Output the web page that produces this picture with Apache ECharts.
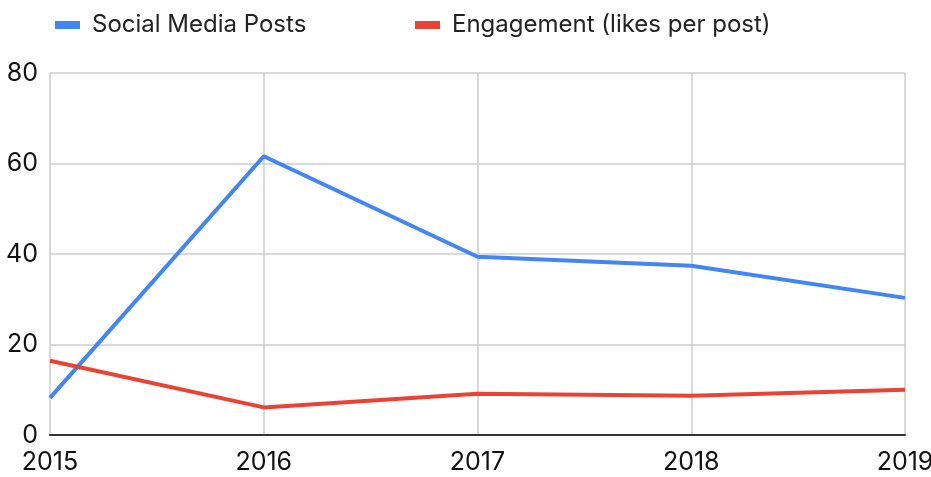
<!DOCTYPE html>
<html>
<head>
<meta charset="utf-8">
<style>
  html, body { margin: 0; padding: 0; background: #fff; }
  #chart { width: 931px; height: 477px; }
</style>
<script src="https://cdn.jsdelivr.net/npm/echarts@6/dist/echarts.min.js"></script>
</head>
<body>
<div id="chart"></div>
<script>
// data
const years = ['2015', '2016', '2017', '2018', '2019']
const postsName = 'Social Media Posts'
const engageName = 'Engagement (likes per post)'
const posts = [8.2, 61.6, 39.4, 37.4, 30.3]
const engagement = [16.4, 6.1, 9.1, 8.7, 10]
const yTicks = [0, 20, 40, 60, 80]

const chart = echarts.init(document.getElementById('chart'))

const legendBase = {
  top: 8,
  itemWidth: 25,
  itemHeight: 8,
  itemGap: 0,
  icon: 'rect',
  textStyle: { fontFamily: 'Inter', fontSize: 24, color: '#222', padding: [0, 0, 0, 7] },
}

chart.setOption({
  animation: false,
  color: ['#4285f4', '#ea4335'],
  legend: [
    Object.assign({ left: 50, data: [postsName] }, legendBase),
    Object.assign({ left: 410, data: [engageName] }, legendBase),
  ],
  grid: { left: 50, right: 26, top: 73, bottom: 42, containLabel: false, outerBoundsMode: 'none' },
  xAxis: {
    type: 'category',
    data: years,
    boundaryGap: false,
    axisTick: { show: false },
    axisLine: { lineStyle: { color: '#333', width: 2 } },
    axisLabel: { fontFamily: 'Inter', fontSize: 25, color: '#111', margin: 15 },
    splitLine: { show: true, lineStyle: { color: '#ccc', width: 1.5 } },
  },
  yAxis: {
    type: 'value',
    min: yTicks[0],
    max: yTicks[yTicks.length - 1],
    interval: 20,
    axisLine: { show: false },
    axisTick: { show: false },
    axisLabel: { fontFamily: 'Inter', fontSize: 25, color: '#111', margin: 12 },
    splitLine: { lineStyle: { color: '#ccc', width: 1.5 } },
  },
  series: [
    {
      name: postsName,
      type: 'line',
      data: posts,
      showSymbol: false,
      lineStyle: { width: 4 },
    },
    {
      name: engageName,
      type: 'line',
      data: engagement,
      showSymbol: false,
      lineStyle: { width: 4 },
    },
  ],
})
</script>
</body>
</html>
